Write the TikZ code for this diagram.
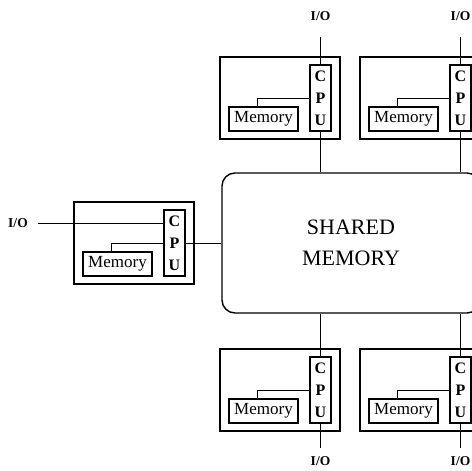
\documentclass[tikz,border=0pt]{standalone}
\usepackage{fontspec}
\setmainfont{Liberation Serif}
\usetikzlibrary{positioning,calc}

\tikzset{
  unitbox/.style={draw, line width=1.2pt, minimum width=120pt, minimum height=82pt, inner sep=0pt},
  cpubox/.style={draw, line width=1.4pt, minimum width=21pt, minimum height=66pt, inner sep=0pt,
    align=center, font=\fontsize{16}{22}\selectfont\bfseries},
  membox/.style={draw, line width=1.4pt, minimum width=69pt, minimum height=24pt, inner sep=0pt,
    font=\fontsize{17}{17}\selectfont},
  shmbox/.style={draw, line width=1.4pt, rounded corners=13pt, minimum width=258pt, minimum height=140pt,
    align=center, font=\fontsize{22}{31}\selectfont},
  iolabel/.style={inner sep=0pt, font=\fontsize{13.5}{13.5}\selectfont\bfseries},
  wire/.style={line width=1pt},
}

\begin{document}
\begin{tikzpicture}[x=1pt, y=-1pt]
        \clip (0,0) rectangle (472,471);

        % Shared memory
        \node[shmbox] (shm) at (351,243) {SHARED\\MEMORY};

        % Unit A: top left
        \begin{scope}[shift={(220,57)}]
            \node[unitbox] (boxA) at (60,41) {};
            \node[cpubox] (cpuA) at (100.5,41) {C\\P\\U};
            \node[membox] (memA) at (43.5,62) {Memory};
            \draw[wire] ([xshift=-6.5pt]memA.north) |- (cpuA.west);
            \coordinate (ioAend) at (100.5,-20);
            \node[iolabel] (ioA) at (100.5,-41) {I/O};
        \end{scope}

        % Unit B: top right
        \begin{scope}[shift={(360,57)}]
            \node[unitbox] (boxB) at (60,41) {};
            \node[cpubox] (cpuB) at (100.5,41) {C\\P\\U};
            \node[membox] (memB) at (43.5,62) {Memory};
            \draw[wire] ([xshift=-6.5pt]memB.north) |- (cpuB.west);
            \coordinate (ioBend) at (100.5,-20);
            \node[iolabel] (ioB) at (100.5,-41) {I/O};
        \end{scope}

        % Unit C: left
        \begin{scope}[shift={(74,202)}]
            \node[unitbox] (boxC) at (60,41) {};
            \node[cpubox] (cpuC) at (100.5,41) {C\\P\\U};
            \node[membox] (memC) at (43.5,62) {Memory};
            \draw[wire] ([xshift=-6.5pt]memC.north) |- (cpuC.west);
            \coordinate (ioCend) at (-36,21);
            \node[iolabel] (ioC) at (-56,21) {I/O};
        \end{scope}

        % Unit D: bottom left
        \begin{scope}[shift={(220,349)}]
            \node[unitbox] (boxD) at (60,41) {};
            \node[cpubox] (cpuD) at (100.5,41) {C\\P\\U};
            \node[membox] (memD) at (43.5,62) {Memory};
            \draw[wire] ([xshift=-6.5pt]memD.north) |- (cpuD.west);
            \coordinate (ioDend) at (100.5,99);
            \node[iolabel] (ioD) at (100.5,112) {I/O};
        \end{scope}

        % Unit E: bottom right
        \begin{scope}[shift={(360,349)}]
            \node[unitbox] (boxE) at (60,41) {};
            \node[cpubox] (cpuE) at (100.5,41) {C\\P\\U};
            \node[membox] (memE) at (43.5,62) {Memory};
            \draw[wire] ([xshift=-6.5pt]memE.north) |- (cpuE.west);
            \coordinate (ioEend) at (100.5,99);
            \node[iolabel] (ioE) at (100.5,112) {I/O};
        \end{scope}

        % I/O lines
        \draw[wire] (ioAend) -- (cpuA.north);
        \draw[wire] (ioBend) -- (cpuB.north);
        \draw[wire] (ioCend) -- (ioCend -| cpuC.west);
        \draw[wire] (cpuD.south) -- (ioDend);
        \draw[wire] (cpuE.south) -- (ioEend);

        % Links to shared memory
        \draw[wire] (cpuA.south) -- (cpuA.south |- shm.north);
        \draw[wire] (cpuB.south) -- (cpuB.south |- shm.north);
        \draw[wire] (cpuC.east) -- (cpuC.east -| shm.west);
        \draw[wire] (cpuD.north) -- (cpuD.north |- shm.south);
        \draw[wire] (cpuE.north) -- (cpuE.north |- shm.south);
    \end{tikzpicture}
\end{document}
